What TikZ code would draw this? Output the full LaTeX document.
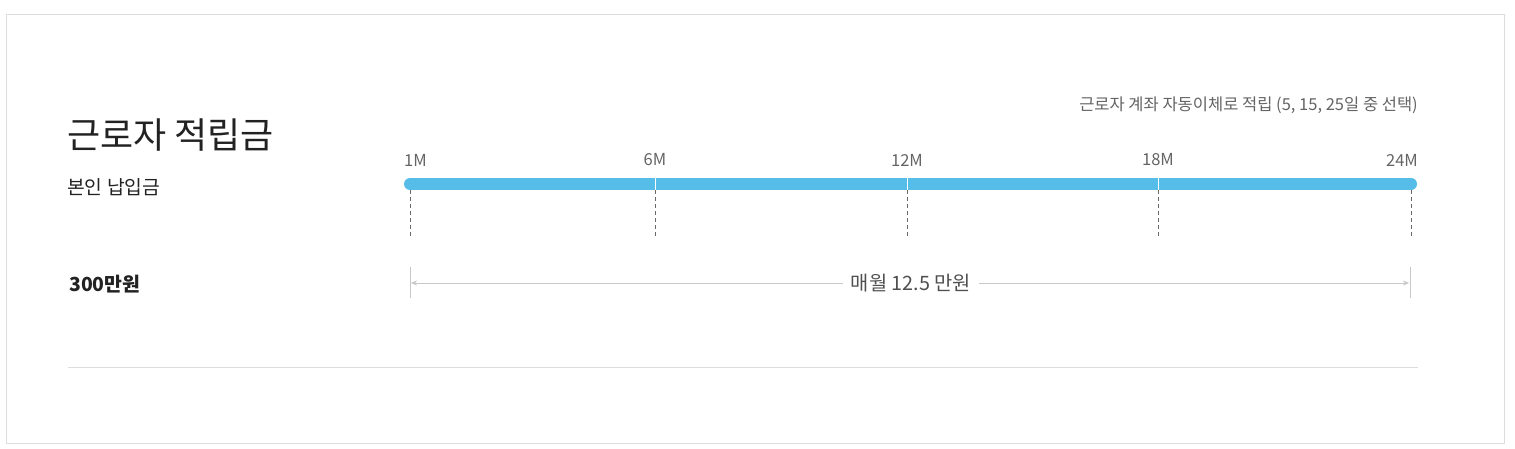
\documentclass[tikz,border=0pt]{standalone}
\usepackage{fontspec}
\setmainfont{Noto Sans CJK KR}
\usetikzlibrary{arrows.meta}
\definecolor{barblue}{RGB}{86,188,232}
\definecolor{textgray}{RGB}{100,100,100}
\definecolor{dashgray}{RGB}{105,105,105}
\definecolor{linegray}{RGB}{200,200,200}
\definecolor{boxgray}{RGB}{221,221,221}
\definecolor{titleblack}{RGB}{34,34,34}

\begin{document}
\begin{tikzpicture}[x=1pt,y=-1pt,
  ticklabel/.style={textgray,font=\fontsize{16.5}{16.5}\selectfont},
  dashtick/.style={dashgray,line width=1pt,dash pattern=on 4pt off 3pt},
  bracket/.style={linegray,thick}]
  \useasboundingbox (0,0) rectangle (1515,449);
  \draw[boxgray] (6,14) rectangle (1504,443);

  % left column
  \node[anchor=west,titleblack,font=\fontsize{36}{36}\selectfont,inner sep=0] (title) at (67,135) {근로자 적립금};
  \node[anchor=west,titleblack,font=\fontsize{19.3}{19.3}\selectfont,inner sep=0] (own) at (67,187) {본인 납입금};
  \node[anchor=west,titleblack,font=\bfseries\fontsize{19.4}{19.4}\selectfont,inner sep=0] (sum) at (69,284) {300만원};
  \node[anchor=east,textgray,font=\fontsize{16.5}{16.5}\selectfont,inner sep=0] (note) at (1418,105) {근로자 계좌 자동이체로 적립 (5, 15, 25일 중 선택)};

  % timeline bar
  \draw[barblue,line width=12pt,line cap=round] (410,184) -- (1411,184);
  \foreach \x in {655,907,1158}
    \draw[white,line width=1pt] (\x,178) -- (\x,190);

  % ticks
  \foreach \x [count=\i] in {410,655,907,1158,1411} {
    \coordinate (t\i) at (\x,190);
    \coordinate (b\i) at (\x,236);
    \draw[dashtick] (t\i) -- (b\i);
  }
  \node[ticklabel,anchor=west,inner sep=0] (m1) at (404,160) {1M};
  \node[ticklabel,inner sep=0] (m6) at (655,160) {6M};
  \node[ticklabel,inner sep=0] (m12) at (907,160) {12M};
  \node[ticklabel,inner sep=0] (m18) at (1158,160) {18M};
  \node[ticklabel,anchor=east,inner sep=0] (m24) at (1418,160) {24M};

  % monthly span
  \draw[bracket] (410,267) -- (410,298);
  \draw[bracket] (1410,267) -- (1410,298);
  \coordinate (left) at (411,283);
  \coordinate (right) at (1409,283);
  \node[textgray!80!black,font=\fontsize{19.8}{19.8}\selectfont,inner sep=8pt] (monthly) at (911,283) {매월 12.5 만원};
  \draw[linegray,-{Stealth[length=6pt,width=5pt]}] (monthly.west) -- (left);
  \draw[linegray,-{Stealth[length=6pt,width=5pt]}] (monthly.east) -- (right);

  % bottom rule
  \draw[boxgray,thick] (68,367) -- (1418,367);
\end{tikzpicture}
\end{document}
